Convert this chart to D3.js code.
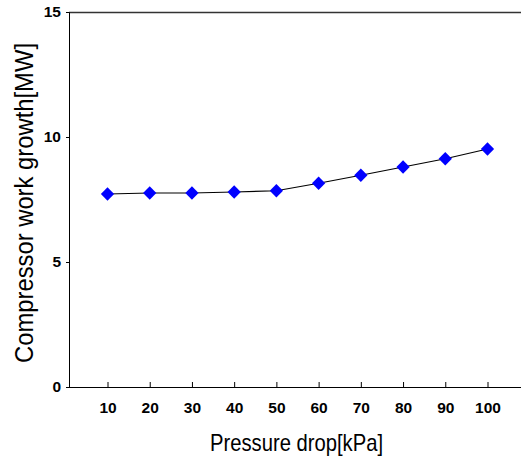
<!DOCTYPE html>
<html><head><meta charset="utf-8">
<script src="https://cdn.jsdelivr.net/npm/d3@7/dist/d3.min.js"></script>
<style>body{margin:0;background:#fff}svg{display:block}</style>
</head><body>
<script>
const categories = [10,20,30,40,50,60,70,80,90,100];
const values = [7.72,7.76,7.76,7.8,7.85,8.15,8.47,8.8,9.13,9.52];
const yTicks = [0,5,10,15];

(function(){
const W=521,H=458;
const FONT="Liberation Sans, Arial, sans-serif";
const svg=d3.select("body").append("svg").attr("width",W).attr("height",H);
const pL=69, pR=521, pT=12, pB=387;
const x=d3.scalePoint().domain(categories).range([107.5,487.5]);
const y=d3.scaleLinear().domain([0,15]).range([pB,pT]);

svg.append("line").attr("x1",pL).attr("x2",pR).attr("y1",pT+0.5).attr("y2",pT+0.5).attr("stroke","#333").attr("stroke-width",1.5);
const ya=svg.append("g").attr("transform",`translate(${pL},0)`)
  .call(d3.axisLeft(y).tickValues(yTicks).tickSize(3).tickPadding(5));
ya.select(".domain").attr("stroke","#000");
ya.selectAll("text").attr("font-family",FONT).attr("font-weight","bold").attr("font-size","15.5px").attr("fill","#000");
const xa=svg.append("g").attr("transform",`translate(0,${pB})`)
  .call(d3.axisBottom(x).tickSize(0).tickPadding(15));
xa.select(".domain").remove();
xa.append("line").attr("x1",pL).attr("x2",pR).attr("y1",0.5).attr("y2",0.5).attr("stroke","#000");
xa.selectAll(".tick").append("line").attr("y1",0).attr("y2",-5).attr("stroke","#000");
xa.selectAll("text").attr("font-family",FONT).attr("font-weight","bold").attr("font-size","15.5px").attr("fill","#000");

const data=categories.map((c,i)=>({c,v:values[i]}));
svg.append("path").datum(data)
  .attr("d",d3.line().x(d=>x(d.c)).y(d=>y(d.v)))
  .attr("fill","none").attr("stroke","#000").attr("stroke-width",1.2);
svg.selectAll(".m").data(data).enter().append("path")
  .attr("d",d3.symbol().type(d3.symbolSquare).size(88)())
  .attr("transform",d=>`translate(${x(d.c)},${y(d.v)}) rotate(45)`)
  .attr("fill","#0000ff");

svg.append("text").attr("x",296.5).attr("y",451).attr("text-anchor","middle")
  .attr("font-family",FONT).attr("font-size","24px")
  .attr("textLength",173).attr("lengthAdjust","spacingAndGlyphs").text("Pressure drop[kPa]");
svg.append("text").attr("transform","translate(33,203) rotate(-90)").attr("text-anchor","middle")
  .attr("font-family",FONT).attr("font-size","26px")
  .attr("textLength",320).attr("lengthAdjust","spacingAndGlyphs").text("Compressor work growth[MW]");
})();
</script>
</body></html>
